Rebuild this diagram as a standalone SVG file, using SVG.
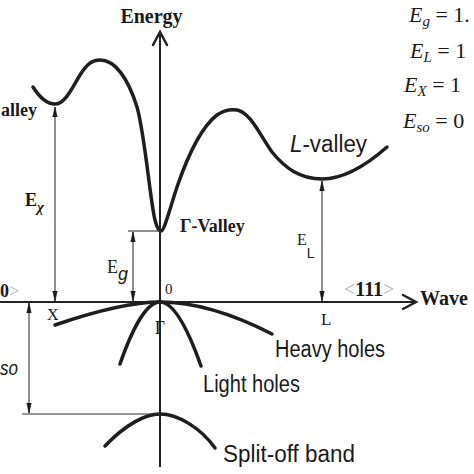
<svg xmlns="http://www.w3.org/2000/svg" width="474" height="474" viewBox="0 0 474 474">
<defs>
<style>
.band{fill:none;stroke:#1e1e1e;stroke-width:3.5;stroke-linecap:round;stroke-linejoin:round}
.axis{fill:none;stroke:#222;stroke-width:2}
.chev{fill:none;stroke:#222;stroke-width:2.5;stroke-linecap:round;stroke-linejoin:miter}
.meas{fill:none;stroke:#333;stroke-width:1.1}
.ser{font-family:"Liberation Serif","Times New Roman",serif;fill:#1a1a1a}
.serb{font-family:"Liberation Serif","Times New Roman",serif;font-weight:bold;fill:#1a1a1a}
.sans{font-family:"Liberation Sans",Arial,sans-serif;fill:#1a1a1a}
.eq{font-family:"Liberation Serif","Times New Roman",serif;font-size:22px;fill:#1a1a1a}
.gray{fill:#b5b5b5;font-weight:normal}
</style>
<marker id="ah" viewBox="0 0 10 6" refX="10" refY="3" markerWidth="10" markerHeight="6" markerUnits="userSpaceOnUse" orient="auto-start-reverse">
<path d="M0,0.8 L10,3 L0,5.2 z" fill="#1a1a1a" stroke="#1a1a1a" stroke-width="0.6"/>
</marker>
</defs>
<rect width="474" height="474" fill="#fff"/>

<g id="axes">
<path class="axis" d="M160,33 V467"/>
<path class="chev" d="M153,45 L160,32 L167,45"/>
<path class="axis" d="M0,302 H415"/>
<path class="chev" d="M403,295 L416,302 L403,309"/>
</g>

<g id="conduction-band">
<path class="band" d="M33,87 C40,98 47,104 55,104 C65,104 72,88 80,75 C87,64 92,60 100,60 C115,60 128,78 137,107 C145,135 150,200 155,220 C157,228 159,231 161,231 C164,231 168,215 177,187 C187,158 200,128 217,115 C224,110 230,109 237,110 C250,112 260,135 272,152 C285,168 300,179 322,179 C345,179 370,162 387,147"/>
</g>

<g id="heavy-holes">
<path class="band" d="M55,325 C90,313 130,302 160,302 C195,302 235,315 272,334"/>
<text class="sans" x="275" y="357" font-size="23" textLength="110" lengthAdjust="spacingAndGlyphs">Heavy holes</text>
</g>
<g id="light-holes">
<path class="band" d="M120,364 C130,335 145,302 160,302 C175,302 190,335 201,366"/>
<text class="sans" x="203" y="392" font-size="23" textLength="97" lengthAdjust="spacingAndGlyphs">Light holes</text>
</g>
<g id="split-off">
<path class="band" d="M105,446 C125,425 145,414 160,414 C177,414 200,427 215,448"/>
<text class="sans" x="223" y="462" font-size="23" textLength="132" lengthAdjust="spacingAndGlyphs">Split-off band</text>
</g>

<g id="connectors">
<path class="meas" d="M55,107 V301" marker-start="url(#ah)" marker-end="url(#ah)"/>
<path class="meas" d="M128,231 H160"/>
<path class="meas" d="M133,232 V301" marker-start="url(#ah)" marker-end="url(#ah)"/>
<path class="meas" d="M322,181 V301" marker-start="url(#ah)" marker-end="url(#ah)"/>
<path class="meas" d="M29,303 V413" marker-start="url(#ah)" marker-end="url(#ah)"/>
<path class="meas" d="M22,414 H160"/>
</g>

<g id="labels">
<text class="serb" x="151.5" y="23" font-size="20" text-anchor="middle">Energy</text>
<text class="serb" x="420" y="305" font-size="20">Wave</text>
<text class="serb" x="344" y="296" font-size="20"><tspan class="gray">&lt;</tspan>111<tspan class="gray">&gt;</tspan></text>
<text class="serb" x="0" y="297" font-size="18">0<tspan class="gray">&gt;</tspan></text>
<text class="ser" x="165" y="294" font-size="15">0</text>
<text class="ser" x="47" y="320" font-size="16">X</text>
<text class="ser" x="160" y="334" font-size="18" text-anchor="middle">Γ</text>
<text class="ser" x="321" y="325" font-size="17">L</text>
<text class="serb" x="180" y="232" font-size="18">Γ-Valley</text>
<text class="serb" x="37" y="116" font-size="18" text-anchor="end">alley</text>
<text class="sans" x="290" y="152" font-size="23" textLength="77" lengthAdjust="spacingAndGlyphs"><tspan font-style="italic">L</tspan>-valley</text>
<text class="serb" x="25" y="206" font-size="18">E<tspan class="ser" font-style="italic" font-size="15" dy="6">χ</tspan></text>
<text class="ser" x="107" y="273" font-size="18">E<tspan class="sans" font-style="italic" font-size="18" dy="7">g</tspan></text>
<text class="ser" x="297" y="245" font-size="16">E<tspan class="sans" font-size="14" dy="13">L</tspan></text>
<text class="sans" x="0" y="375" font-size="20" font-style="italic" textLength="18" lengthAdjust="spacingAndGlyphs">so</text>
</g>

<g id="values">
<text class="eq" x="409" y="22"><tspan font-style="italic">E</tspan><tspan font-style="italic" font-size="15" dy="4">g</tspan><tspan dy="-4"> = 1.</tspan></text>
<text class="eq" x="410" y="58"><tspan font-style="italic">E</tspan><tspan font-style="italic" font-size="15" dy="4">L</tspan><tspan dy="-4"> = 1</tspan></text>
<text class="eq" x="404" y="92"><tspan font-style="italic">E</tspan><tspan font-style="italic" font-size="15" dy="4">X</tspan><tspan dy="-4"> = 1</tspan></text>
<text class="eq" x="403" y="128"><tspan font-style="italic">E</tspan><tspan font-style="italic" font-size="15" dy="4">so</tspan><tspan dy="-4"> = 0</tspan></text>
</g>
</svg>
